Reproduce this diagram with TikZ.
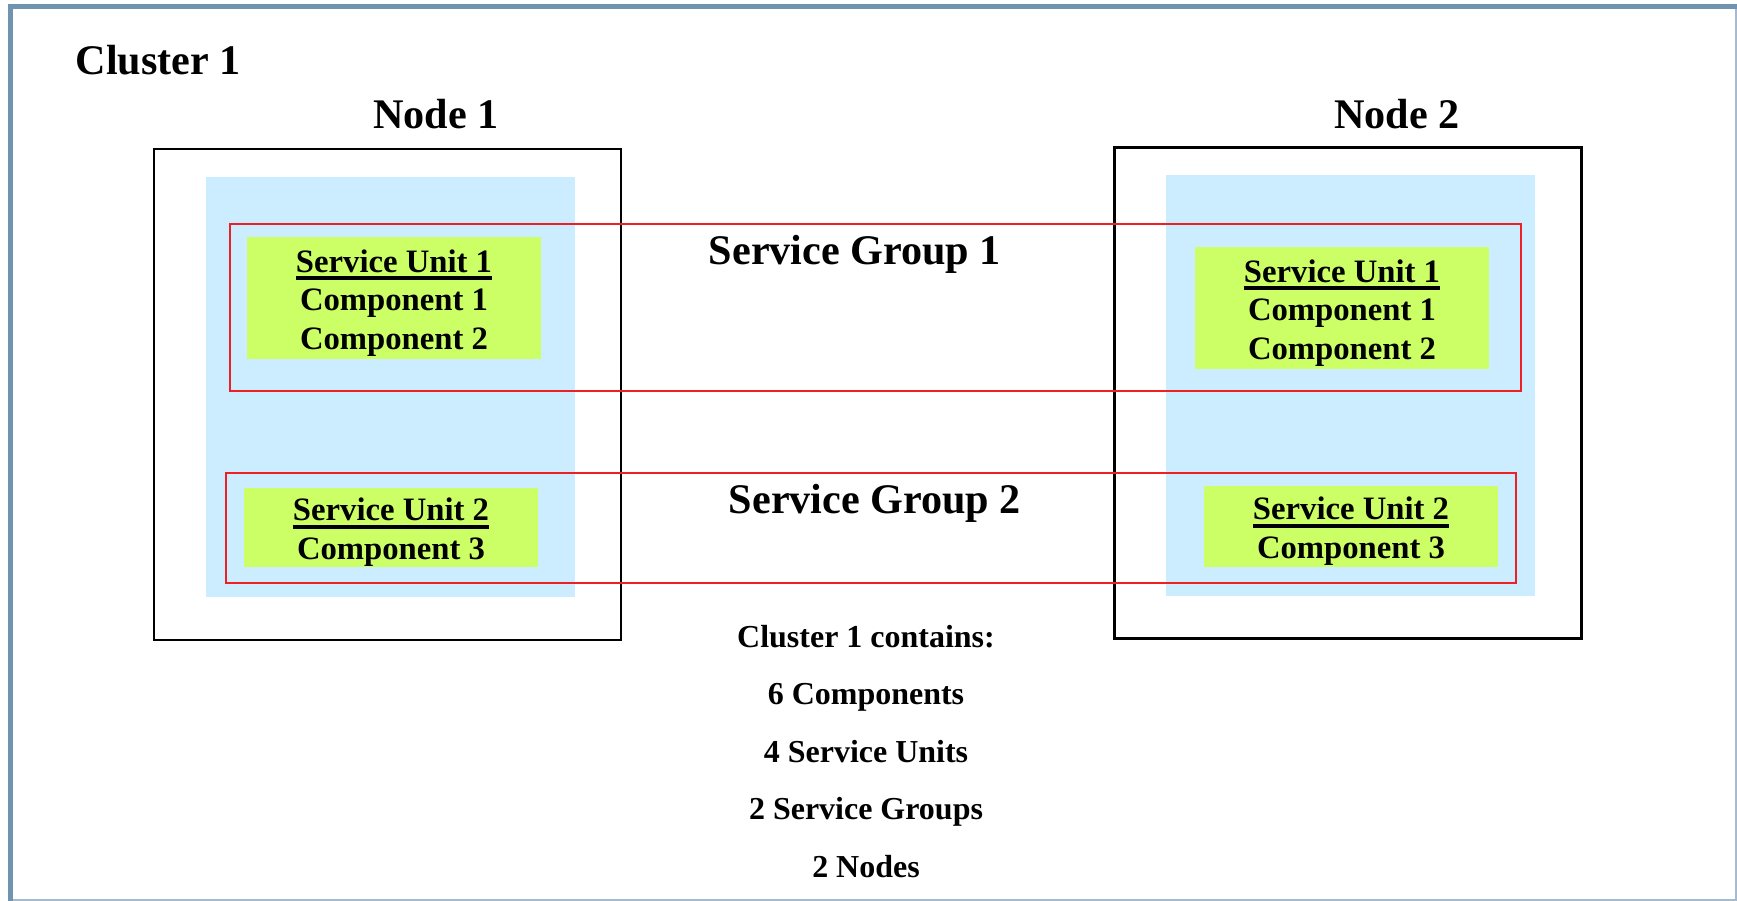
\documentclass[tikz,border=0pt]{standalone}
\usepackage{fontspec}
\setmainfont{Liberation Serif}

\definecolor{framesteel}{RGB}{112,147,176}
\definecolor{framelight}{RGB}{165,187,205}
\definecolor{hostblue}{RGB}{204,236,255}
\definecolor{sugreen}{RGB}{204,255,102}
\definecolor{sgred}{RGB}{237,32,36}

\newcommand{\bigfont}{\fontsize{12}{14}\selectfont\bfseries}
\newcommand{\sufont}{\fontsize{9.3}{10.95}\selectfont\bfseries}
\newcommand{\sumfont}{\fontsize{9.1}{11}\selectfont\bfseries}
% underlined head line of a service unit
\newcommand{\suhead}[1]{\rule{0pt}{9.2pt}\setbox0\hbox{#1}\rlap{\rule[-2.2pt]{\wd0}{1.1pt}}\box0}

\tikzset{
	nodebox/.style={draw=black, line width=0.6pt, rectangle},
	hostarea/.style={fill=hostblue, rectangle, inner sep=0pt},
	sgbox/.style={draw=sgred, line width=0.6pt, rectangle},
	subox/.style={fill=sugreen, rectangle, align=center, inner sep=0pt, font=\sufont},
	biglabel/.style={font=\bigfont, anchor=base, inner sep=0pt},
	sumlabel/.style={font=\sumfont, anchor=base},
}

\begin{document}
\begin{tikzpicture}
	\useasboundingbox (0,0) rectangle (17.37,-9.01);
	
	% Frame round the cluster
	\draw[framelight, line width=0.4pt] (0.13,-9.0) -- (17.36,-9.0) -- (17.36,-0.09);
	\draw[framesteel, line width=1.4pt] (0.105,-9.05) -- (0.105,-0.065) -- (17.40,-0.065);
	
	% Draw each node with its blue area
	\foreach \name/\x/\y/\bx/\by in {n1/3.875/-3.945/3.905/-3.87, n2/13.48/-3.93/13.50/-3.855} {
		\node[hostarea, minimum width=3.69cm, minimum height=4.2cm] (\name-area) at (\bx,\by) {};
		\node[nodebox, minimum width=4.67cm, minimum height=4.91cm] (\name-box) at (\x,\y) {};
	}
	
	% Service groups
	\node[sgbox, minimum width=12.91cm, minimum height=1.67cm] (sg1) at (8.755,-3.075) {};
	\node[sgbox, minimum width=12.90cm, minimum height=1.10cm] (sg2) at (8.71,-5.28) {};
	
	% Service units
	\node[subox, minimum width=2.94cm, minimum height=1.22cm] (n1-su1) at (3.94,-2.98)
	{\suhead{Service Unit 1}\\Component 1\\Component 2};
	\node[subox, minimum width=2.94cm, minimum height=1.22cm] (n2-su1) at (13.42,-3.08)
	{\suhead{Service Unit 1}\\Component 1\\Component 2};
	\node[subox, minimum width=2.94cm, minimum height=0.79cm] (n1-su2) at (3.91,-5.275)
	{\suhead{Service Unit 2}\\Component 3};
	\node[subox, minimum width=2.94cm, minimum height=0.81cm] (n2-su2) at (13.51,-5.265)
	{\suhead{Service Unit 2}\\Component 3};
	
	\node[biglabel, anchor=base west] (cluster) at (0.75,-0.75) {Cluster 1};
	\node[biglabel] (n1-label) at (4.36,-1.29) {Node 1};
	\node[biglabel] (n2-label) at (13.97,-1.29) {Node 2};
	\node[biglabel] (sg1-label) at (8.55,-2.65) {Service Group 1};
	\node[biglabel] (sg2-label) at (8.75,-5.13) {Service Group 2};
	
	% Summary below the nodes
	\foreach \txt [count=\k] in {Cluster 1 contains:, 6 Components, 4 Service Units, 2 Service Groups, 2 Nodes} {
		\node[sumlabel] (sum-\k) at ({8.66},{-5.895-0.575*\k}) {\txt};
	}
\end{tikzpicture}
\end{document}
